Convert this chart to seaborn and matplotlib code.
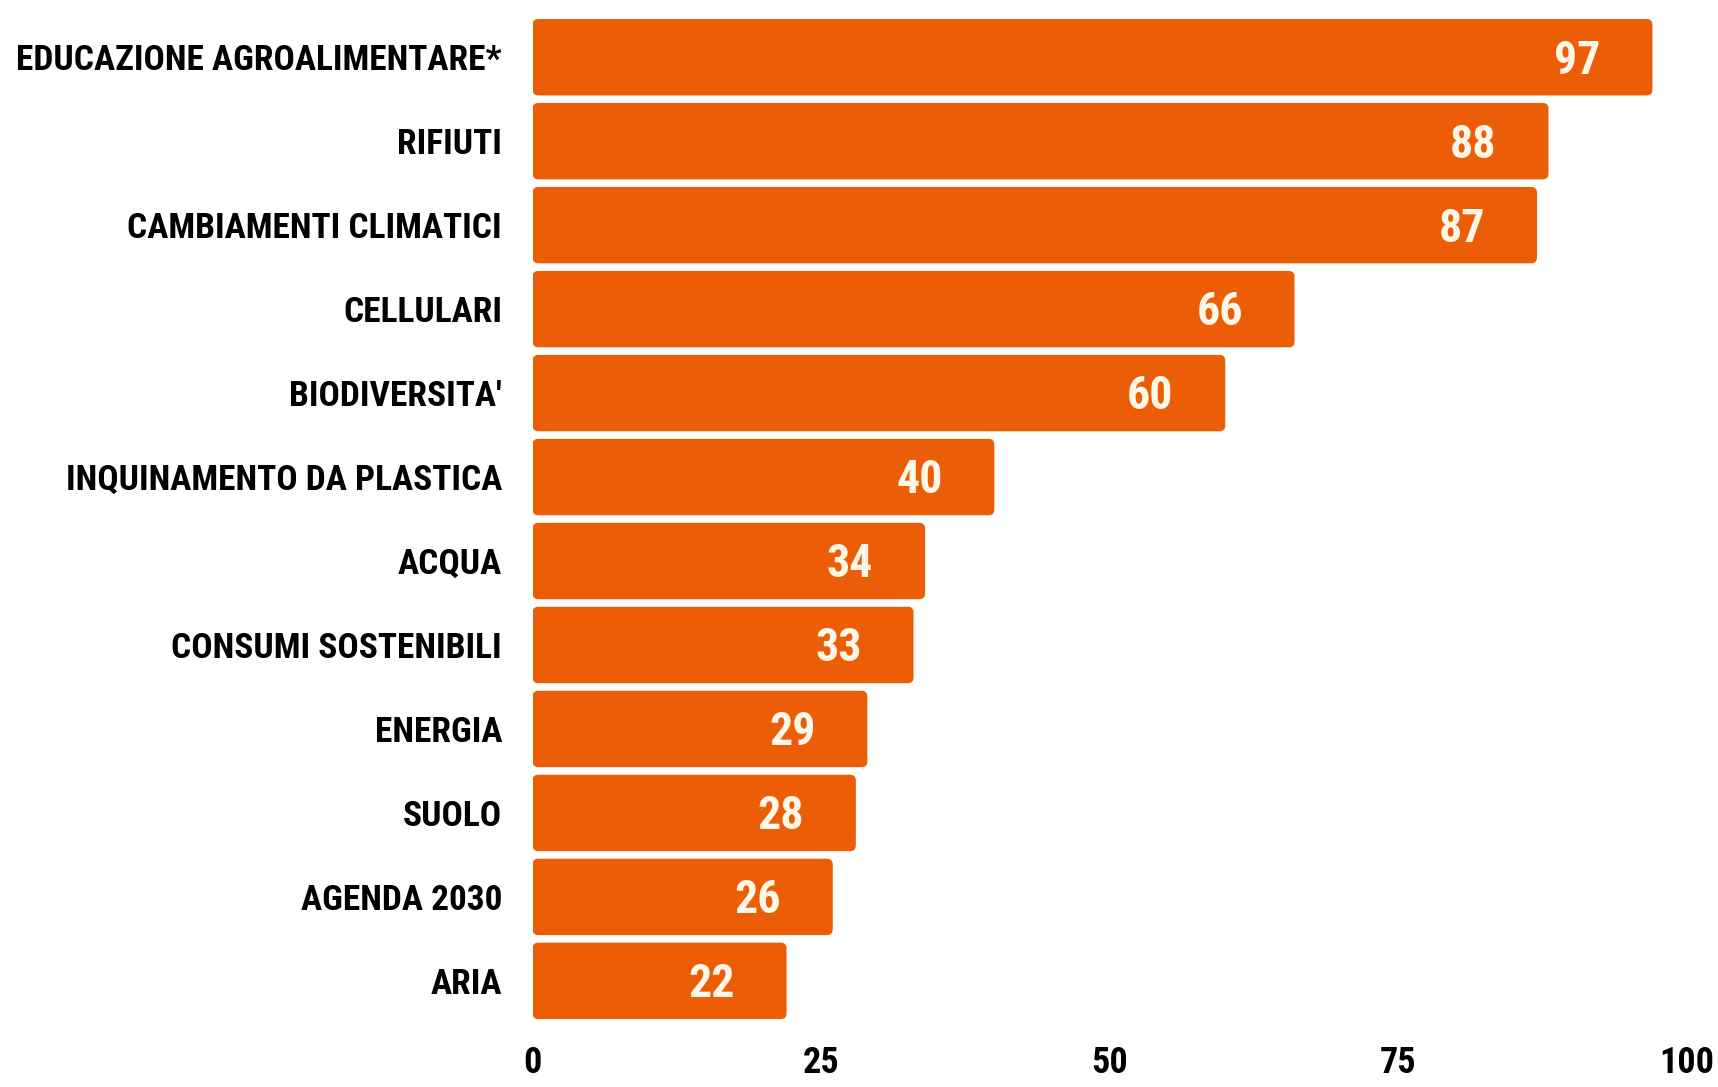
import matplotlib
matplotlib.use("Agg")
import matplotlib.pyplot as plt
from matplotlib import font_manager
from matplotlib.patches import FancyBboxPatch
import seaborn as sns
import pandas as pd

# data
topics = ["EDUCAZIONE AGROALIMENTARE*", "RIFIUTI", "CAMBIAMENTI CLIMATICI",
          "CELLULARI", "BIODIVERSITA'", "INQUINAMENTO DA PLASTICA", "ACQUA",
          "CONSUMI SOSTENIBILI", "ENERGIA", "SUOLO", "AGENDA 2030", "ARIA"]
counts = [97, 88, 87, 66, 60, 40, 34, 33, 29, 28, 26, 22]
x_ticks = [0, 25, 50, 75, 100]

df = pd.DataFrame({"topic": topics, "count": counts})

# pick a narrow font if one is around
installed = {f.name for f in font_manager.fontManager.ttflist}
narrow = [n for n in ["Roboto Condensed", "Liberation Sans Narrow", "DejaVu Sans"]
          if n in installed]

sns.set_style("white")
plt.rcParams['font.family'] = narrow + ['DejaVu Sans']
plt.rcParams['font.stretch'] = 'condensed'
plt.rcParams['text.color'] = 'black'
plt.rcParams['xtick.color'] = 'black'
plt.rcParams['ytick.color'] = 'black'

fig = plt.figure(figsize=(17.18, 10.87), dpi=100)
ax = fig.add_axes([0.310, 0.059, 0.672, 0.927])

sns.barplot(data=df, x="count", y="topic", color="#EB5E07", saturation=1,
            width=0.91, ax=ax)

# swap plain rectangles for ones with softly rounded corners
for p in list(ax.patches):
    x, y, w, h = p.get_x(), p.get_y(), p.get_width(), p.get_height()
    rb = FancyBboxPatch((x, y), w, h, boxstyle="round,pad=0,rounding_size=0.5",
                        mutation_aspect=0.14, facecolor=p.get_facecolor(),
                        edgecolor="none")
    p.remove()
    ax.add_patch(rb)

for i, v in enumerate(counts):
    ax.text(v - 6.5, i + 0.04, str(v), ha="center", va="center", color="#FFF8E8",
            fontsize=33, fontweight="black")

ax.set_xlim(0, 100)
ax.set_ylim(11.5, -0.5)
ax.set_xticks(x_ticks)
ax.set_xlabel("")
ax.set_ylabel("")
ax.tick_params(axis="both", length=0)
ax.tick_params(axis="y", pad=22, labelsize=25.5)
ax.tick_params(axis="x", pad=16, labelsize=26)
for lab in ax.get_yticklabels() + ax.get_xticklabels():
    lab.set_fontweight("black")
sns.despine(left=True, bottom=True)

fig.savefig("out.png", dpi=100)
